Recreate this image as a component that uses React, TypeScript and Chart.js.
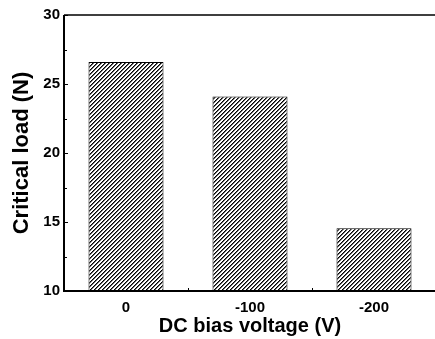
import React, { useEffect, useRef } from "react";
import { Chart, registerables } from "chart.js";

Chart.register(...registerables);

const categories = ["0", "-100", "-200"];
const criticalLoad = [26.6, 24.1, 14.55];
const yMin = 10;
const yMax = 30;
const yStep = 5;
const yTitle = "Critical load (N)";
const xTitle = "DC bias voltage (V)";

function makeHatch(): CanvasPattern | string {
  const s = 4;
  const c = document.createElement("canvas");
  c.width = s;
  c.height = s;
  const g = c.getContext("2d");
  if (!g) return "#888";
  g.fillStyle = "#fff";
  g.fillRect(0, 0, s, s);
  for (let y = 0; y < s; y++) {
    const x = (s - 1 - y + s) % s;
    g.fillStyle = "#000";
    g.fillRect(x, y, 1, 1);
    g.fillStyle = "rgba(0,0,0,0.6)";
    g.fillRect((x + 1) % s, y, 1, 1);
  }
  const p = g.createPattern(c, "repeat");
  return p || "#888";
}

const framePlugin = {
  id: "frame",
  afterDraw(chart: any) {
    const { ctx, chartArea } = chart;
    const { left, right, top, bottom } = chartArea;
    const y = chart.scales.y;
    const x = chart.scales.x;
    ctx.save();
    ctx.strokeStyle = "#000";
    ctx.lineWidth = 2;
    ctx.beginPath();
    ctx.moveTo(left, top);
    ctx.lineTo(left, bottom);
    ctx.lineTo(right, bottom);
    ctx.stroke();
    ctx.lineWidth = 1.5;
    ctx.beginPath();
    ctx.moveTo(left, top);
    ctx.lineTo(right, top);
    ctx.lineTo(right, bottom);
    ctx.stroke();
    ctx.lineWidth = 1;
    ctx.beginPath();
    for (let v = yMin; v <= yMax + 1e-9; v += yStep / 2) {
      const py = Math.round(y.getPixelForValue(v)) + 0.5;
      const major = Math.abs((v - yMin) % yStep) < 1e-9;
      ctx.moveTo(left, py);
      ctx.lineTo(left + (major ? 4 : 3), py);
    }
    for (let i = 1; i < categories.length; i++) {
      const px =
        Math.round((x.getPixelForValue(i - 1) + x.getPixelForValue(i)) / 2) + 0.5;
      ctx.moveTo(px, bottom);
      ctx.lineTo(px, bottom - 3);
    }
    ctx.stroke();
    ctx.restore();
  },
};

export default function App() {
  const ref = useRef<HTMLCanvasElement>(null);
  useEffect(() => {
    document.body.style.margin = "0";
    document.body.style.overflow = "hidden";
    const canvas = ref.current;
    if (!canvas) return;
    const hatch = makeHatch();
    const font = "Arial, 'Liberation Sans', sans-serif";
    const chart = new Chart(canvas, {
      type: "bar",
      data: {
        labels: categories,
        datasets: [
          {
            data: criticalLoad,
            backgroundColor: hatch as any,
            borderColor: "#000",
            borderWidth: 1,
            borderSkipped: "bottom",
            barPercentage: 0.605,
            categoryPercentage: 1,
          },
        ],
      },
      plugins: [framePlugin],
      options: {
        responsive: false,
        animation: false,
        layout: { padding: { top: 15, right: 2, left: 0, bottom: 0 } },
        plugins: { legend: { display: false }, tooltip: { enabled: false } },
        scales: {
          x: {
            grid: { display: false, drawTicks: false },
            border: { display: false },
            ticks: {
              color: "#000",
              font: { family: font, size: 15, weight: "bold" },
              padding: 8,
              maxRotation: 0,
            },
            title: {
              display: true,
              text: xTitle,
              color: "#000",
              font: { family: font, size: 20, weight: "bold", lineHeight: 1.2 },
              padding: { top: 0, bottom: 1 },
            },
            afterFit(scale: any) {
              scale.height = 48;
            },
          },
          y: {
            min: yMin,
            max: yMax,
            grid: { display: false, drawTicks: false },
            border: { display: false },
            ticks: {
              stepSize: yStep,
              color: "#000",
              font: { family: font, size: 15, weight: "bold" },
              padding: 4,
            },
            title: {
              display: true,
              text: yTitle,
              color: "#000",
              font: { family: font, size: 22, weight: "bold", lineHeight: 1.2 },
              padding: { top: 9, bottom: 0 },
            },
            afterFit(scale: any) {
              scale.width = 64;
            },
          },
        },
      },
    });
    return () => chart.destroy();
  }, []);
  return (
    <div style={{ width: 438, height: 339 }}>
      <canvas ref={ref} width={438} height={339} style={{ display: "block" }} />
    </div>
  );
}
